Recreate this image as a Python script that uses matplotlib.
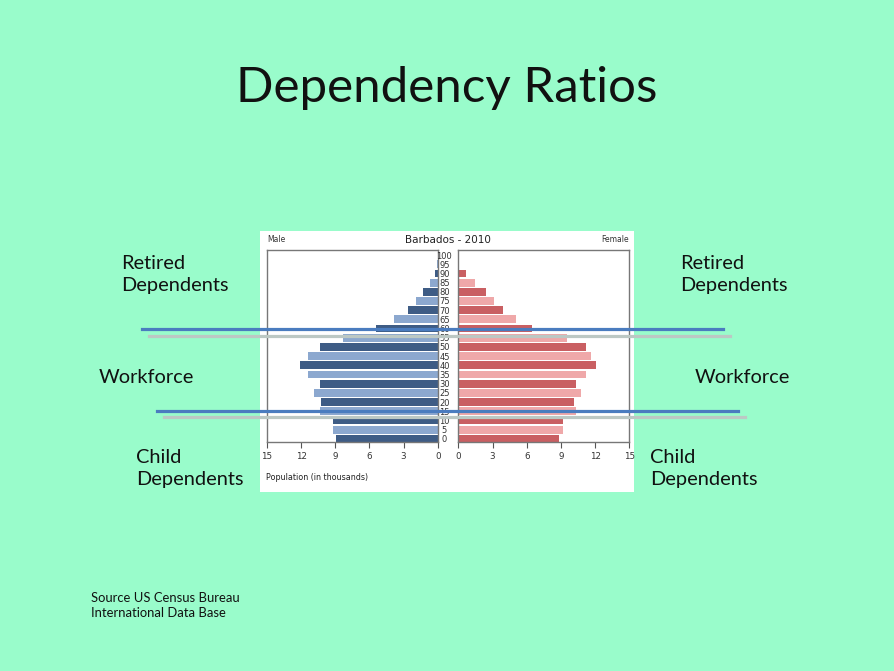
import numpy as np
from matplotlib import pyplot as plt
from matplotlib.lines import Line2D
from matplotlib.patches import Rectangle

## Barbados 2010 population pyramid (thousands)

ages = [0, 5, 10, 15, 20, 25, 30, 35, 40, 45, 50, 55, 60, 65, 70, 75, 80, 85, 90, 95, 100]
male = [8.92, 9.19, 9.24, 10.33, 10.27, 10.86, 10.33, 11.39, 12.06, 11.39, 10.33,
        8.36, 5.43, 3.85, 2.61, 1.91, 1.32, 0.68, 0.24, 0.04, 0.0]
female = [8.86, 9.18, 9.2, 10.29, 10.17, 10.78, 10.31, 11.21, 12.04, 11.6, 11.2,
          9.5, 6.46, 5.09, 3.92, 3.13, 2.4, 1.5, 0.68, 0.08, 0.0]
xticks = [0, 3, 6, 9, 12, 15]

W, H = 894, 671
BG = '#99fccb'
plt.rcParams['font.family'] = ['Lato', 'DejaVu Sans']

def fx(x):
    return x / W

def fy(y):
    return 1 - y / H

fig = plt.figure(figsize=(W/100, H/100), dpi=100, facecolor=BG)

# white picture panel
fig.add_artist(Rectangle((fx(260), fy(492)), fx(634) - fx(260), fy(231) - fy(492),
                         transform=fig.transFigure, facecolor='white', edgecolor='none', zorder=0))

ypos = np.arange(len(ages))
m_cols = ['#3e5c85' if i % 2 == 0 else '#8ca8cf' for i in ypos]
f_cols = ['#c95f62' if i % 2 == 0 else '#efa8a9' for i in ypos]

ax_m = fig.add_axes([fx(267), fy(442), fx(437.7) - fx(267), fy(250) - fy(442)])
ax_f = fig.add_axes([fx(458.3), fy(442), fx(629.3) - fx(458.3), fy(250) - fy(442)])

ax_m.barh(ypos, male, height=0.85, color=m_cols)
ax_f.barh(ypos, female, height=0.85, color=f_cols)

for ax in (ax_m, ax_f):
    ax.set_ylim(-0.35, 20.55)
    ax.set_xticks(xticks)
    ax.set_xticklabels([str(t) for t in xticks], fontsize=6.3, family='DejaVu Sans', color='#333333')
    ax.tick_params(axis='x', length=4, width=0.8, color='#555555', pad=3)
    for s in ax.spines.values():
        s.set_color('#777777')
        s.set_linewidth(1.0)
    ax.patch.set_alpha(0)

ax_m.set_xlim(15, 0)
ax_f.set_xlim(0, 15)
ax_m.set_yticks([])
ax_f.set_yticks(ypos)
ax_f.set_yticklabels([str(a) for a in ages], fontsize=6.0, family='DejaVu Sans',
                     color='#333333', ha='center')
ax_f.tick_params(axis='y', length=0, pad=10)

# chart texts
fig.text(fx(448), fy(240), 'Barbados - 2010', ha='center', va='center', fontsize=7.5,
         family='DejaVu Sans', color='#222222')
fig.text(fx(267), fy(240), 'Male', ha='left', va='center', fontsize=5.5,
         family='DejaVu Sans', color='#333333')
fig.text(fx(629), fy(240), 'Female', ha='right', va='center', fontsize=5.5,
         family='DejaVu Sans', color='#333333')
fig.text(fx(266), fy(477), 'Population (in thousands)', ha='left', va='center', fontsize=5.8,
         family='DejaVu Sans', color='#222222')

# slide title and side labels
fig.text(fx(447), fy(102), 'Dependency Ratios', ha='center', va='baseline', fontsize=35.5,
         color='#111111')
side = dict(fontsize=14.4, color='#111111', va='baseline', linespacing=1.35)
fig.text(fx(121), fy(291), 'Retired\nDependents', ha='left', **side)
fig.text(fx(680), fy(291), 'Retired\nDependents', ha='left', **side)
fig.text(fx(99), fy(383), 'Workforce', ha='left', **side)
fig.text(fx(695), fy(383), 'Workforce', ha='left', **side)
fig.text(fx(136), fy(485), 'Child\nDependents', ha='left', **side)
fig.text(fx(650), fy(485), 'Child\nDependents', ha='left', **side)
fig.text(fx(91), fy(617), 'Source US Census Bureau\nInternational Data Base', ha='left',
         va='baseline', fontsize=9.4, color='#111111', linespacing=1.3)

# divider lines across the pyramid
dividers = [
    (142, 723, 329, '#4a7cbf'), (149, 730, 335.5, '#bcc8c4'),
    (157, 738, 410.7, '#4a7cbf'), (164, 745, 417.3, '#bcc8c4'),
]
for x0, x1, y, c in dividers:
    fig.add_artist(Line2D([fx(x0), fx(x1)], [fy(y), fy(y)], transform=fig.transFigure,
                          color=c, linewidth=2.3, zorder=10))

fig.savefig('out.png', dpi=100, facecolor=BG)
